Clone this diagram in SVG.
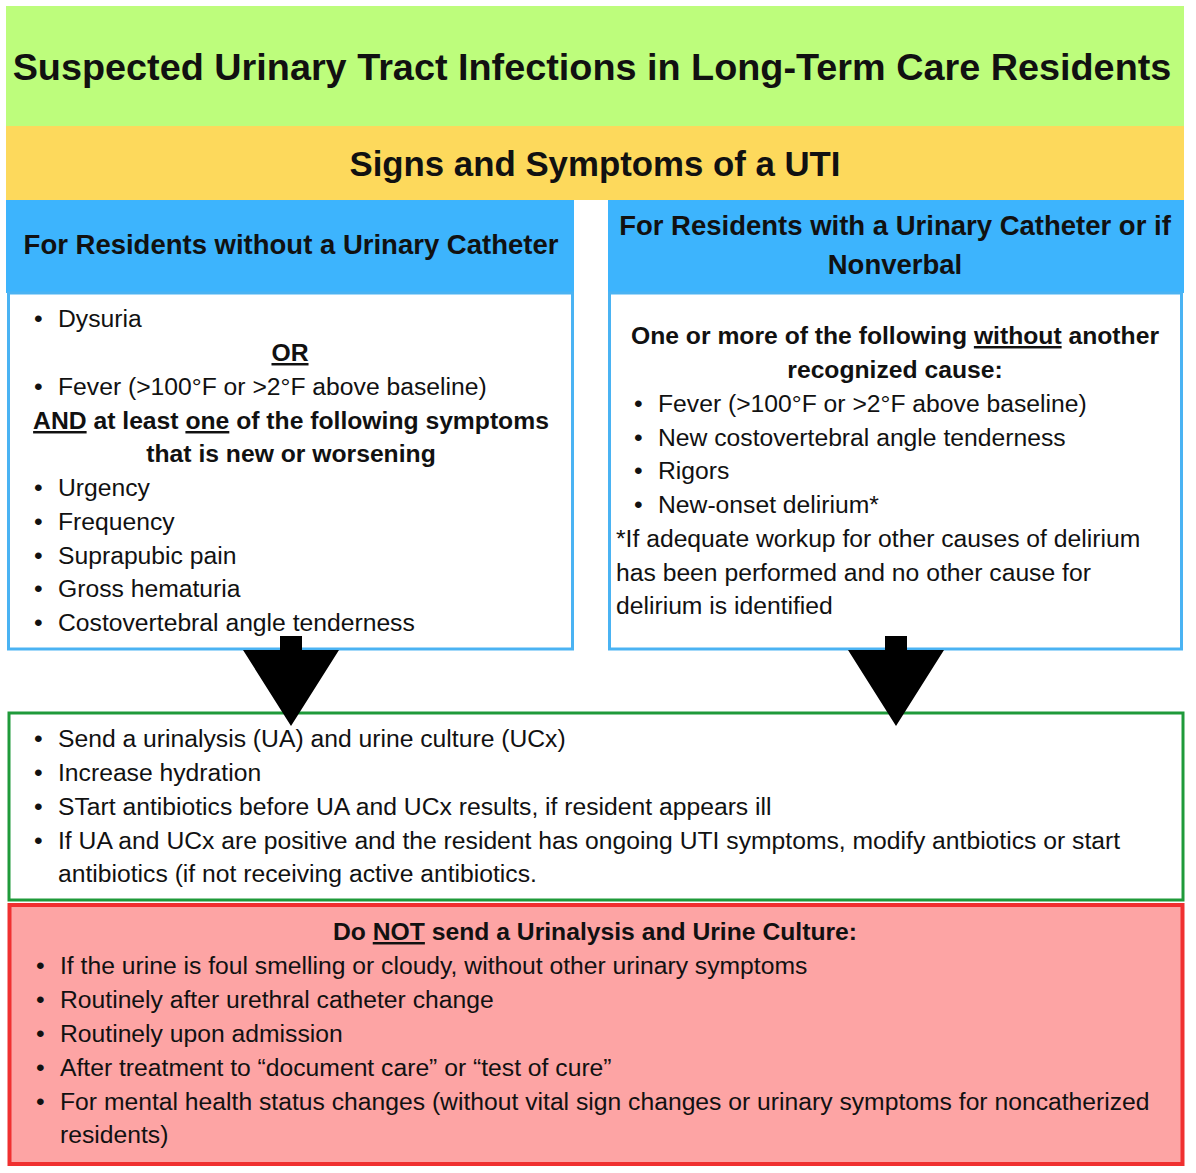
<svg xmlns="http://www.w3.org/2000/svg" width="1196" height="1173" viewBox="0 0 1196 1173">
<style>
text{font-family:"Liberation Sans",Arial,sans-serif;fill:#111}
.b{font-weight:bold}
.t{font-size:24.7px}
.h{font-size:27.5px;font-weight:bold}
.c{text-anchor:middle}
.u{text-decoration:underline}
</style>
<rect width="1196" height="1173" fill="#fff"/>
<g id="title"><rect x="6" y="6" width="1178" height="120" fill="#bdfd7c"/>
<text x="592" y="80" class="c b" font-size="37.8">Suspected Urinary Tract Infections in Long-Term Care Residents</text></g>
<g id="signs"><rect x="6" y="126" width="1178" height="74" fill="#fdd95c"/>
<text x="595" y="176" class="c b" font-size="34.8">Signs and Symptoms of a UTI</text></g>
<g id="leftHeader"><rect x="6" y="200" width="568" height="93" fill="#3db4fd"/>
<text x="291" y="254" class="c h">For Residents without a Urinary Catheter</text></g>
<g id="rightHeader"><rect x="608" y="200" width="576" height="93" fill="#3db4fd"/>
<text x="895" y="235" class="c h">For Residents with a Urinary Catheter or if</text>
<text x="895" y="274" class="c h">Nonverbal</text></g>
<g id="leftBox"><rect x="8.5" y="293" width="564" height="356" fill="#fff" stroke="#4ab3f3" stroke-width="3"/>
<g class="t">
<text x="34" y="327">•</text><text x="58" y="327">Dysuria</text>
<text x="290" y="361" class="c b u">OR</text>
<text x="34" y="395">•</text><text x="58" y="395">Fever (&gt;100°F or &gt;2°F above baseline)</text>
<text x="291" y="429" class="c b"><tspan class="u">AND</tspan> at least <tspan class="u">one</tspan> of the following symptoms</text>
<text x="291" y="462" class="c b">that is new or worsening</text>
<text x="34" y="496">•</text><text x="58" y="496">Urgency</text>
<text x="34" y="530">•</text><text x="58" y="530">Frequency</text>
<text x="34" y="564">•</text><text x="58" y="564">Suprapubic pain</text>
<text x="34" y="597">•</text><text x="58" y="597">Gross hematuria</text>
<text x="34" y="631">•</text><text x="58" y="631">Costovertebral angle tenderness</text>
</g></g>
<g id="rightBox"><rect x="609.5" y="293" width="572" height="356" fill="#fff" stroke="#4ab3f3" stroke-width="3"/>
<g class="t">
<text x="895" y="344" class="c b">One or more of the following <tspan class="u">without</tspan> another</text>
<text x="895" y="378" class="c b">recognized cause:</text>
<text x="634" y="412">•</text><text x="658" y="412">Fever (&gt;100°F or &gt;2°F above baseline)</text>
<text x="634" y="446">•</text><text x="658" y="446">New costovertebral angle tenderness</text>
<text x="634" y="479">•</text><text x="658" y="479">Rigors</text>
<text x="634" y="513">•</text><text x="658" y="513">New-onset delirium*</text>
<text x="616" y="547">*If adequate workup for other causes of delirium</text>
<text x="616" y="581">has been performed and no other cause for</text>
<text x="616" y="614">delirium is identified</text>
</g></g>
<g id="actionBox"><rect x="9" y="713" width="1174" height="187" fill="#fff" stroke="#1f9a3a" stroke-width="3"/>
<g class="t">
<text x="34" y="747">•</text><text x="58" y="747">Send a urinalysis (UA) and urine culture (UCx)</text>
<text x="34" y="781">•</text><text x="58" y="781">Increase hydration</text>
<text x="34" y="815">•</text><text x="58" y="815">STart antibiotics before UA and UCx results, if resident appears ill</text>
<text x="34" y="849">•</text><text x="58" y="849">If UA and UCx are positive and the resident has ongoing UTI symptoms, modify antbiotics or start</text>
<text x="58" y="882">antibiotics (if not receiving active antibiotics.</text>
</g></g>
<g id="doNotBox"><rect x="9.5" y="905" width="1173" height="259" fill="#fda4a4" stroke="#f03030" stroke-width="4"/>
<g class="t">
<text x="595" y="940" class="c b">Do <tspan class="u">NOT</tspan> send a Urinalysis and Urine Culture:</text>
<text x="36" y="974">•</text><text x="60" y="974">If the urine is foul smelling or cloudy, without other urinary symptoms</text>
<text x="36" y="1008">•</text><text x="60" y="1008">Routinely after urethral catheter change</text>
<text x="36" y="1042">•</text><text x="60" y="1042">Routinely upon admission</text>
<text x="36" y="1076">•</text><text x="60" y="1076">After treatment to “document care” or “test of cure”</text>
<text x="36" y="1110">•</text><text x="60" y="1110">For mental health status changes (without vital sign changes or urinary symptoms for noncatherized</text>
<text x="60" y="1143">residents)</text>
</g></g>
<g id="connectors" fill="#000">
<polygon points="280,636 302,636 302,650 339,650 291,726 243,650 280,650"/>
<polygon points="885,636 907,636 907,650 944,650 896,726 848,650 885,650"/>
</g>
</svg>
